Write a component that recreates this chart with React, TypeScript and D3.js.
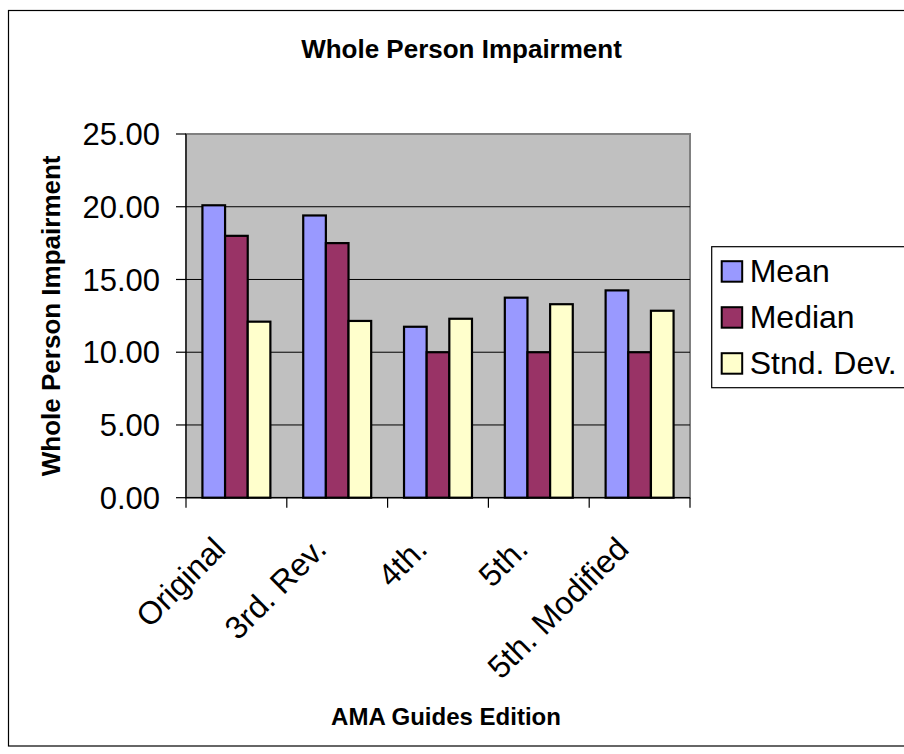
import * as d3 from 'd3'

const CATEGORIES = ['Original', '3rd. Rev.', '4th.', '5th.', '5th. Modified']
const SERIES = ['Mean', 'Median', 'Stnd. Dev.']
const MEAN = [20.1, 19.4, 11.75, 13.75, 14.25]
const MEDIAN = [18.0, 17.5, 10.0, 10.0, 10.0]
const STD_DEV = [12.1, 12.15, 12.3, 13.3, 12.85]
const Y_TICKS = [0, 5, 10, 15, 20, 25]
const COLORS = ['#9999FF', '#993366', '#FFFFCC']

const W = 904, H = 754
const FONT = '"Liberation Sans", Arial, Helvetica, sans-serif'

export default function App() {
  const plot = { left: 186, right: 690, top: 134, bottom: 497.7 }
  const values = [MEAN, MEDIAN, STD_DEV]

  const x0 = d3.scaleBand<string>().domain(CATEGORIES).range([plot.left, plot.right]).padding(0)
  const step = x0.bandwidth()
  const barW = step / 4.45
  const gap = (step - barW * 3) / 2
  const x1 = d3.scaleBand<string>().domain(SERIES).range([gap, step - gap]).padding(0)
  const y = d3.scaleLinear().domain([0, 25]).range([plot.bottom, plot.top])

  const legend = { x: 711.7, y: 246.7, row: 46 }

  return (
    <svg width={W} height={H} style={{ position: 'absolute', left: 0, top: 0, background: '#fff' }} fontFamily={FONT}>
      {/* chart frame */}
      <rect x={8.5} y={10.5} width={1000} height={735.5} fill="#fff" stroke="#000" strokeWidth={1.2} />

      <text x={461.5} y={58} textAnchor="middle" fontSize={26} fontWeight="bold">Whole Person Impairment</text>

      {/* plot area */}
      <rect x={plot.left} y={plot.top} width={plot.right - plot.left} height={plot.bottom - plot.top} fill="#C0C0C0" stroke="#808080" strokeWidth={2} />
      {Y_TICKS.filter(t => t > 0 && t < 25).map(t => (
        <line key={t} x1={plot.left} x2={plot.right} y1={y(t)} y2={y(t)} stroke="#000" strokeWidth={1} />
      ))}

      {/* bars */}
      {CATEGORIES.map((c, i) => (
        <g key={c} transform={`translate(${x0(c)},0)`}>
          {SERIES.map((s, j) => (
            <rect key={s} x={x1(s)} y={y(values[j][i])} width={x1.bandwidth()} height={y(0) - y(values[j][i])}
              fill={COLORS[j]} stroke="#000" strokeWidth={2.2} />
          ))}
        </g>
      ))}

      {/* y axis */}
      <line x1={plot.left} x2={plot.left} y1={plot.top} y2={plot.bottom} stroke="#000" strokeWidth={1.2} />
      {Y_TICKS.map(t => (
        <g key={t}>
          <line x1={plot.left - 10} x2={plot.left} y1={y(t)} y2={y(t)} stroke="#000" strokeWidth={1.2} />
          <text x={160} y={y(t)} dy="0.36em" textAnchor="end" fontSize={31}>{t.toFixed(2)}</text>
        </g>
      ))}

      {/* x axis */}
      <line x1={plot.left} x2={plot.right} y1={plot.bottom} y2={plot.bottom} stroke="#000" strokeWidth={1.2} />
      {[...CATEGORIES.map(c => x0(c)!), plot.right].map((xv, i) => (
        <line key={i} x1={xv} x2={xv} y1={plot.bottom} y2={plot.bottom + 10} stroke="#000" strokeWidth={1.2} />
      ))}
      {CATEGORIES.map(c => {
        const cx = x0(c)! + step / 2 - 9
        const cy = 551
        return (
          <text key={c} x={cx} y={cy} textAnchor="end" fontSize={32} transform={`rotate(-45,${cx},${cy})`}>{c}</text>
        )
      })}

      <text transform={`translate(60,${(plot.top + plot.bottom) / 2}) rotate(-90)`} textAnchor="middle" fontSize={26} fontWeight="bold">Whole Person Impairment</text>
      <text x={446} y={725} textAnchor="middle" fontSize={24} fontWeight="bold">AMA Guides Edition</text>

      {/* legend */}
      <rect x={legend.x} y={legend.y} width={300} height={141} fill="#fff" stroke="#000" strokeWidth={1.2} />
      {SERIES.map((s, j) => (
        <g key={s} transform={`translate(${legend.x},${legend.y + j * legend.row})`}>
          <rect x={10} y={14.5} width={20.5} height={20.5} fill={COLORS[j]} stroke="#000" strokeWidth={2} />
          <text x={38} y={35.5} fontSize={32}>{s}</text>
        </g>
      ))}
    </svg>
  )
}
